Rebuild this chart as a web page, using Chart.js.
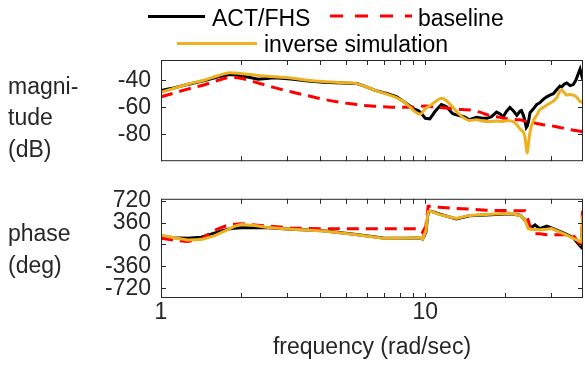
<!DOCTYPE html>
<html>
<head>
<meta charset="utf-8">
<script src="https://cdn.jsdelivr.net/npm/chart.js@4.4.1/dist/chart.umd.min.js"></script>
<style>
  body { margin: 0; background: #fff; }
  #wrap { position: relative; width: 585px; height: 365px; overflow: hidden;
          font-family: 'Liberation Sans', Arial, sans-serif; }
  canvas { position: absolute; left: 0; }
  .lbl { position: absolute; left: 8px; font-size: 23px; line-height: 23px; color: #262626; white-space: nowrap; }
  .leg { position: absolute; font-size: 23px; line-height: 23px; color: #000; white-space: nowrap; }
  .swatch { position: absolute; height: 3px; }
</style>
</head>
<body>
<div id="wrap">
  <canvas id="magChart" width="585" height="185" style="top:0"></canvas>
  <canvas id="phaseChart" width="585" height="190" style="top:175px"></canvas>

  <div class="swatch" style="left:148px; top:15px; width:57px; background:#000"></div>
  <div class="leg" style="left:212px; top:7px">ACT/FHS</div>
  <svg style="position:absolute; left:330px; top:10px" width="82" height="12">
    <line x1="0" y1="6" x2="82" y2="6" stroke="#ff0000" stroke-width="3" stroke-dasharray="13 12"></line>
  </svg>
  <div class="leg" style="left:418px; top:7px">baseline</div>
  <div class="swatch" style="left:177px; top:42px; width:80px; background:#EDB120"></div>
  <div class="leg" style="left:264px; top:33px">inverse simulation</div>

  <div class="lbl" style="top:75px">magni-</div>
  <div class="lbl" style="top:106px">tude</div>
  <div class="lbl" style="top:138px">(dB)</div>
  <div class="lbl" style="top:222px">phase</div>
  <div class="lbl" style="top:254px">(deg)</div>
</div>

<script>
// magnitude (dB) vs frequency (rad/sec)
const freqMag = [1, 1.1, 1.26, 1.45, 1.65, 1.82, 2.0, 2.33, 2.69, 3.1, 3.6, 4.1, 4.8, 5.5, 5.75,
  6.5, 7.2, 7.8, 8.3, 8.75, 9.1, 9.4, 9.6, 10.0, 10.4, 10.9, 11.5, 12.0, 12.7, 13.3, 14.0, 14.7,
  15.6, 16.3, 17.1, 17.8, 18.6, 19.2, 19.7, 20.3, 20.9, 21.6, 22.2, 22.8, 23.1, 23.5, 23.8, 24.1,
  24.3, 24.6, 24.9, 25.6, 26.4, 27.1, 28.0, 28.8, 29.6, 30.5, 31.4, 32.3, 32.8, 33.5, 34.3, 35.3,
  36.3, 37.1, 37.9, 38.5, 39.0, 39.5];
const actMag = [-47.7, -46.0, -43.2, -40.5, -37.5, -35.7, -36.5, -39.3, -38.2, -39.0, -40.5, -41.5,
  -42.0, -42.5, -43.6, -47.7, -50.0, -52.3, -56.0, -59.1, -61.5, -62.5, -64.0, -68.2, -68.6, -63.0,
  -58.0, -59.5, -64.8, -66.0, -67.0, -69.3, -67.5, -68.0, -68.2, -67.0, -63.6, -65.0, -67.1, -63.0,
  -60.2, -63.0, -66.0, -63.0, -62.5, -66.0, -70.0, -75.0, -74.0, -70.0, -64.0, -61.4, -58.0, -56.8,
  -54.0, -52.3, -51.0, -50.0, -47.0, -44.3, -45.0, -43.0, -42.0, -44.0, -43.2, -40.0, -35.2, -31.8,
  -36.0, -39.8];
const baseMag = [-52.3, -50.0, -46.6, -43.5, -40.0, -38.0, -38.5, -42.0, -45.5, -48.5, -51.5, -54.0,
  -56.5, -58.0, -58.5, -59.3, -59.8, -60.0, -60.0, -60.0, -59.8, -59.5, -59.3, -59.1, -59.5, -60.0,
  -60.3, -60.5, -61.0, -61.5, -61.8, -62.0, -63.0, -64.0, -65.5, -66.3, -67.0, -67.5, -68.0, -68.5,
  -68.8, -69.0, -69.2, -69.3, -69.5, -70.0, -70.3, -70.5, -70.6, -70.8, -71.0, -71.5, -72.0, -72.5,
  -73.0, -73.5, -73.8, -74.0, -74.5, -75.0, -75.3, -75.6, -76.0, -76.5, -77.0, -77.3, -77.6, -77.8,
  -78.0, -78.2];
const invMag = [-48.9, -46.5, -43.0, -40.0, -36.5, -34.5, -35.0, -36.4, -37.5, -38.3, -40.0, -41.0,
  -41.8, -42.5, -43.6, -47.7, -50.5, -53.0, -56.0, -60.0, -63.0, -64.8, -65.0, -61.0, -59.0, -56.0,
  -53.4, -55.0, -60.0, -64.5, -68.0, -69.8, -69.3, -70.0, -70.5, -70.5, -70.3, -70.5, -70.5, -70.0,
  -70.0, -71.0, -73.0, -76.0, -77.0, -78.5, -81.8, -90.0, -94.0, -86.0, -78.4, -70.0, -65.9, -62.0,
  -60.0, -58.5, -57.0, -55.5, -53.0, -48.0, -47.3, -49.0, -51.0, -50.5, -51.0, -52.0, -54.0, -55.7,
  -56.0, -57.0];

// phase (deg) vs frequency (rad/sec)
const freqPhase = [1, 1.125, 1.26, 1.42, 1.59, 1.79, 1.9, 2.01, 2.26, 2.54, 3.11, 4.1, 5.49, 6.93,
  8.5, 9.53, 9.76, 10.05, 10.25, 10.55, 11.3, 13.1, 14.7, 17.0, 20.9, 22.8, 23.8, 24.5, 25.2, 26.0,
  27.1, 28.8, 30.0, 33.3, 36.3, 38.5, 39.0, 39.3, 39.5];
const actPhase = [130, 110, 100, 120, 185, 250, 268, 276, 276, 275, 250, 225, 165, 105,
  100, 110, 86, 200, 530, 545, 500, 420, 470, 485, 505, 480, 400, 330, 280, 320,
  260, 300, 270, 190, 110, -25, -50, 100, 150];
const basePhase = [100, 70, 50, 90, 230, 318, 330, 340, 320, 301, 270, 258, 258, 258,
  258, 255, 200, 300, 628, 628, 610, 592, 580, 562, 555, 552, 552, 402, 200, 176,
  176, 161, 161, 161, 150, 0, 20, 527, 527];
const invPhase = [150, 110, 75, 80, 140, 245, 300, 326, 311, 280, 251, 220, 160, 100,
  100, 115, 86, 220, 540, 542, 492, 426, 477, 490, 512, 477, 402, 261, 245, 245,
  241, 250, 261, 176, 100, 50, 40, 452, 452];

// axis ticks
const xTicks = [1, 2, 3, 4, 5, 6, 7, 8, 9, 10, 20, 30];
const xLabeled = [1, 10];
const magTicks = [-80, -60, -40];
const phaseTicks = [-720, -360, 0, 360, 720];

const AXIS = '#262626';
const FONT = "'Liberation Sans', Arial, sans-serif";
const TICK_LEN = 5;

const pts = (xs, ys) => xs.map((x, i) => ({ x, y: ys[i] }));

// MATLAB-like box with inward ticks on all sides
const boxTicks = {
  id: 'boxTicks',
  afterDatasetsDraw(chart) {
    const { ctx, chartArea: a, scales } = chart;
    ctx.save();
    ctx.strokeStyle = AXIS;
    ctx.lineWidth = 1;
    ctx.beginPath();
    scales.x.ticks.forEach(t => {
      const px = Math.round(scales.x.getPixelForValue(t.value)) + 0.5;
      ctx.moveTo(px, a.bottom); ctx.lineTo(px, a.bottom - TICK_LEN);
      ctx.moveTo(px, a.top); ctx.lineTo(px, a.top + TICK_LEN);
    });
    scales.y.ticks.forEach(t => {
      const py = Math.round(scales.y.getPixelForValue(t.value)) + 0.5;
      ctx.moveTo(a.left, py); ctx.lineTo(a.left + TICK_LEN, py);
      ctx.moveTo(a.right, py); ctx.lineTo(a.right - TICK_LEN, py);
    });
    ctx.stroke();
    ctx.strokeRect(a.left + 0.5, a.top + 0.5, a.right - a.left - 1, a.bottom - a.top - 1);
    ctx.restore();
  }
};

function series(data, color, dash, order, smooth) {
  return {
    data,
    borderColor: color,
    borderWidth: 3,
    borderDash: dash,
    pointRadius: 0,
    fill: false,
    order,
    cubicInterpolationMode: smooth ? 'monotone' : 'default',
    tension: 0,
  };
}

function makePanel(id, datasets, yMin, yMax, yTicks, padTop, xHeight, showX) {
  return new Chart(document.getElementById(id), {
    type: 'line',
    data: { datasets },
    plugins: [boxTicks],
    options: {
      responsive: false,
      animation: false,
      parsing: false,
      layout: { padding: { top: padTop, right: 2, left: 0, bottom: 0 } },
      plugins: { legend: { display: false }, tooltip: { enabled: false } },
      scales: {
        x: {
          type: 'logarithmic',
          min: 1,
          max: 39.5,
          afterBuildTicks: (s) => { s.ticks = xTicks.map(v => ({ value: v })); },
          afterFit: (s) => { s.height = xHeight; },
          grid: { display: false, drawTicks: false },
          border: { display: false },
          ticks: {
            display: showX,
            autoSkip: false,
            maxRotation: 0,
            padding: 1,
            color: AXIS,
            font: { family: FONT, size: 23 },
            callback: (v) => xLabeled.includes(v) ? String(v) : '',
          },
          title: {
            display: showX,
            text: 'frequency (rad/sec)',
            color: AXIS,
            font: { family: FONT, size: 23 },
            padding: { top: 0, bottom: 4 },
          },
        },
        y: {
          min: yMin,
          max: yMax,
          afterBuildTicks: (s) => { s.ticks = yTicks.map(v => ({ value: v })); },
          afterFit: (s) => { s.width = 161; },
          grid: { display: false, drawTicks: false },
          border: { display: false },
          ticks: {
            autoSkip: false,
            padding: 10,
            color: AXIS,
            font: { family: FONT, size: 23 },
            callback: (v) => String(v),
          },
        },
      },
    },
  });
}

makePanel('magChart', [
  series(pts(freqMag, actMag), '#000000', [], 2, false),
  series(pts(freqMag, baseMag), '#ff0000', [12, 7], 1, true),
  series(pts(freqMag, invMag), '#EDB120', [], 0, true),
], -100, -25, magTicks, 60, 15, false);

makePanel('phaseChart', [
  series(pts(freqPhase, actPhase), '#000000', [], 2, false),
  series(pts(freqPhase, basePhase), '#ff0000', [12, 7], 1, false),
  series(pts(freqPhase, invPhase), '#EDB120', [], 0, false),
], -880, 750, phaseTicks, 15, 67, true);
</script>
</body>
</html>
